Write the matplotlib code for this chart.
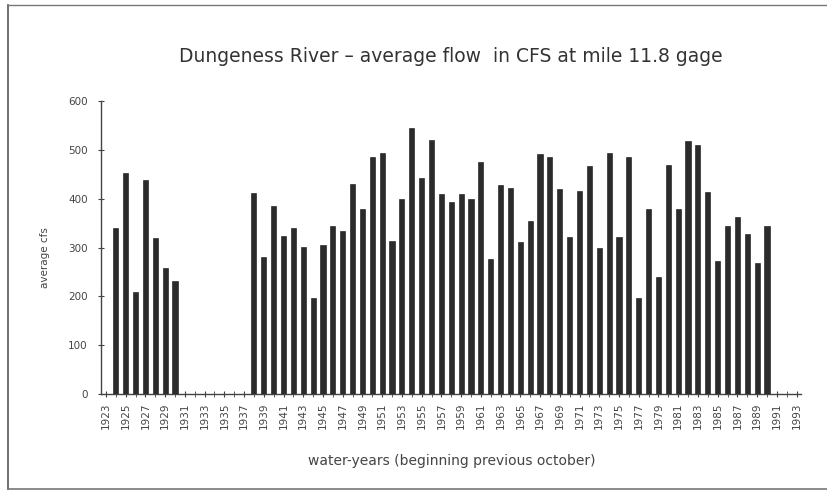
import matplotlib
matplotlib.use("Agg")
import matplotlib.pyplot as plt
import numpy as np

years = list(range(1923, 1994))
flow_1924_1930 = [340, 452, 208, 438, 319, 259, 231]
flow_1938_1990 = [411, 280, 384, 324, 339, 302, 196, 305, 344, 334,
                  431, 378, 485, 494, 314, 400, 544, 442, 520, 410,
                  393, 409, 399, 476, 276, 428, 421, 312, 355, 491,
                  486, 419, 322, 416, 467, 300, 494, 322, 486, 196,
                  378, 239, 468, 378, 518, 509, 414, 273, 344, 363,
                  327, 269, 344]

values = {}
for y, v in zip(range(1924, 1931), flow_1924_1930):
    values[y] = v
for y, v in zip(range(1938, 1991), flow_1938_1990):
    values[y] = v
flow = [values.get(y, 0) for y in years]

title = "Dungeness River \u2013 average flow  in CFS at mile 11.8 gage"
ylabel = "average cfs"
xlabel = "water-years (beginning previous october)"
yticks = [0, 100, 200, 300, 400, 500, 600]
xtick_labels = [str(y) for y in years[::2]]

W, H = 828, 493
fig = plt.figure(figsize=(W / 100, H / 100), dpi=100)
fig.patch.set_facecolor("white")

ax = fig.add_axes([101 / W, 1 - 394 / H, (801.5 - 101) / W, (394 - 101) / H])
x = np.arange(len(years))
ax.bar(x, flow, width=0.52, color="#2b2b2b", edgecolor="#111111", linewidth=0.4, zorder=3)

ax.set_xlim(-0.5, len(years) - 0.5)
ax.set_ylim(0, 600)
for s in ["top", "right"]:
    ax.spines[s].set_visible(False)
for s in ["left", "bottom"]:
    ax.spines[s].set_color("#444444")
    ax.spines[s].set_linewidth(1.0)

ax.set_yticks(yticks)
ax.set_yticklabels([str(v) for v in yticks], fontsize=7.5, color="#444444")
ax.tick_params(axis="y", direction="inout", length=5, color="#444444", pad=7)

ax.set_xticks(x[::2])
ax.set_xticklabels(xtick_labels, rotation=90, fontsize=7.5, color="#444444")
ax.set_xticks(x, minor=True)
ax.tick_params(axis="x", which="both", direction="inout", length=4, color="#444444", pad=4)

fig.text(451 / W, 1 - 57 / H, title, ha="center", va="center", fontsize=13.5, color="#333333")
fig.text(45 / W, 1 - 258 / H, ylabel, ha="center", va="center", rotation=90, fontsize=7.5, color="#444444")
fig.text(452 / W, 1 - 461 / H, xlabel, ha="center", va="center", fontsize=10, color="#444444")

# outer frame lines
fig.add_artist(plt.Line2D([8 / W, 8 / W], [1 - 489 / H, 1 - 5 / H], transform=fig.transFigure, color="#555555", lw=1.2))
fig.add_artist(plt.Line2D([8 / W, 1], [1 - 5 / H, 1 - 5 / H], transform=fig.transFigure, color="#777777", lw=1.0))
fig.add_artist(plt.Line2D([8 / W, 1], [1 - 489 / H, 1 - 489 / H], transform=fig.transFigure, color="#777777", lw=1.2))

fig.savefig("out.png", dpi=100, facecolor="white")
